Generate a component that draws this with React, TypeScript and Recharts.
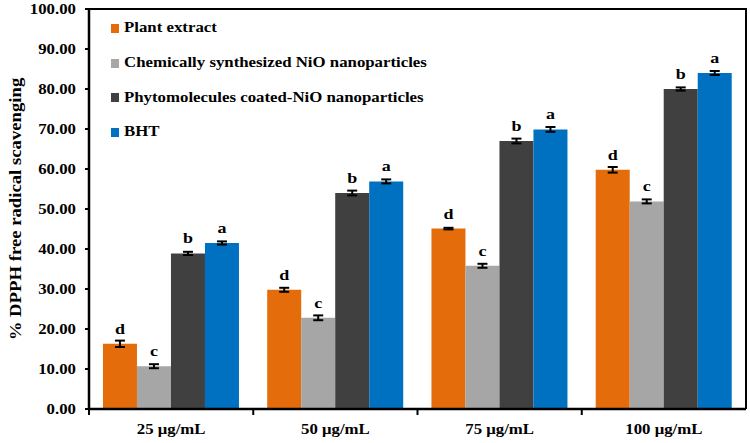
import { Bar, BarChart, ErrorBar, LabelList, Legend, XAxis, YAxis } from "recharts"

const categories = ["25 μg/mL", "50 μg/mL", "75 μg/mL", "100 μg/mL"]

const seriesNames = [
  "Plant extract",
  "Chemically synthesized NiO nanoparticles",
  "Phytomolecules coated-NiO nanoparticles",
  "BHT",
]
const seriesKeys = ["plant", "chem", "phyto", "bht"]
const seriesColors = ["#E46C0A", "#A6A6A6", "#404040", "#0070C0"]
const seriesLetters = ["d", "c", "b", "a"]

const plantExtract = [16.3, 29.8, 45.1, 59.8]
const plantExtractErr = [0.8, 0.5, 0.2, 0.7]
const chemNiO = [10.7, 22.8, 35.8, 51.9]
const chemNiOErr = [0.5, 0.6, 0.5, 0.5]
const phytoNiO = [38.9, 54.0, 67.0, 80.0]
const phytoNiOErr = [0.4, 0.6, 0.6, 0.4]
const bht = [41.5, 56.9, 69.9, 84.0]
const bhtErr = [0.4, 0.5, 0.6, 0.5]

const yTicks = [0, 10, 20, 30, 40, 50, 60, 70, 80, 90, 100]

const values = [plantExtract, chemNiO, phytoNiO, bht]
const errors = [plantExtractErr, chemNiOErr, phytoNiOErr, bhtErr]

const data = categories.map((category, i) => {
  const row: Record<string, string | number> = { category }
  seriesKeys.forEach((key, s) => {
    row[key] = values[s][i]
    row[key + "Err"] = errors[s][i]
  })
  return row
})

// layout
const W = 750
const H = 443
const MARGIN = { top: 9, right: 4, left: 0, bottom: 6 }
const X_AXIS_H = 28
const Y_AXIS_W = 89
const PLOT_W = W - MARGIN.left - MARGIN.right - Y_AXIS_W
const PLOT_H = H - MARGIN.top - MARGIN.bottom - X_AXIS_H
const BAND = PLOT_W / categories.length
const Y_TICK_SIZE = 4
const Y_TICK_MARGIN = 9

const FONT = "'Liberation Serif', 'Times New Roman', serif"
const STRETCH = 1.2

function YTick(props: any) {
  const { x, y, payload } = props
  return (
    <text
      transform={`translate(${x},${y}) scale(${STRETCH},1)`}
      textAnchor="end"
      dy="0.35em"
      fontFamily={FONT}
      fontWeight="bold"
      fontSize={14}
      fill="#000"
    >
      {Number(payload.value).toFixed(2)}
    </text>
  )
}

function XTick(props: any) {
  const { x, y, payload } = props
  return (
    <g>
      <line x1={x - BAND / 2} x2={x - BAND / 2} y1={y} y2={y + 6} stroke="#000" strokeWidth={2} />
      <text
        transform={`translate(${x},${y + 25}) scale(${STRETCH},1)`}
        textAnchor="middle"
        fontFamily={FONT}
        fontWeight="bold"
        fontSize={14}
        fill="#000"
      >
        {payload.value}
      </text>
    </g>
  )
}

function renderLetter(p: any, letter: string) {
  const x = Number(p.x) + Number(p.width) / 2
  const y = Number(p.y) - 10
  return (
    <text
      transform={`translate(${x},${y}) scale(${STRETCH},1)`}
      textAnchor="middle"
      fontFamily={FONT}
      fontWeight="bold"
      fontSize={15}
      fill="#000"
    >
      {letter}
    </text>
  )
}

function renderYLabel(p: any) {
  const vb = p.viewBox || {}
  const cy = (vb.y ?? MARGIN.top) + (vb.height ?? PLOT_H) / 2
  return (
    <text
      transform={`translate(15,${cy}) rotate(-90) scale(1.17,1)`}
      textAnchor="middle"
      dominantBaseline="central"
      fontFamily={FONT}
      fontWeight="bold"
      fontSize={16}
      fill="#000"
    >
      % DPPH free radical scavenging
    </text>
  )
}

function LegendBox() {
  return (
    <div style={{ fontFamily: FONT, fontWeight: "bold", fontSize: 14, color: "#000" }}>
      {seriesNames.map((name, i) => (
        <div key={name} style={{ display: "flex", alignItems: "center", height: 34.7 }}>
          <span
            style={{
              display: "inline-block",
              width: 8,
              height: 9,
              background: seriesColors[i],
              marginRight: 5,
            }}
          />
          <span
            style={{
              display: "inline-block",
              whiteSpace: "nowrap",
              transform: `scaleX(${STRETCH})`,
              transformOrigin: "left center",
            }}
          >
            {name}
          </span>
        </div>
      ))}
    </div>
  )
}

export default function App() {
  return (
    <div style={{ position: "absolute", left: 0, top: 0, width: W, height: H, background: "#fff" }}>
      <BarChart
        width={W}
        height={H}
        data={data}
        margin={MARGIN}
        barCategoryGap="8.5%"
        barGap={0}
      >
        <XAxis
          dataKey="category"
          height={X_AXIS_H}
          axisLine={{ stroke: "#000", strokeWidth: 2.5 }}
          tickLine={false}
          tickSize={0}
          tickMargin={0}
          interval={0}
          tick={<XTick />}
        />
        <YAxis
          width={Y_AXIS_W}
          domain={[0, 100]}
          ticks={yTicks}
          interval={0}
          axisLine={{ stroke: "#000", strokeWidth: 2.5 }}
          tickLine={{ stroke: "#000", strokeWidth: 2 }}
          tickSize={Y_TICK_SIZE}
          tickMargin={Y_TICK_MARGIN}
          tick={<YTick />}
          label={{ content: renderYLabel }}
        />
        <Legend
          layout="vertical"
          align="center"
          verticalAlign="middle"
          wrapperStyle={{ top: 11, left: 111, width: "auto" }}
          content={() => <LegendBox />}
        />
        {seriesKeys.map((key, s) => (
          <Bar
            key={key}
            dataKey={key}
            name={seriesNames[s]}
            fill={seriesColors[s]}
            isAnimationActive={false}
          >
            <ErrorBar dataKey={key + "Err"} width={5} stroke="#000" strokeWidth={2} direction="y" />
            <LabelList dataKey={key} content={(p: any) => renderLetter(p, seriesLetters[s])} />
          </Bar>
        ))}
      </BarChart>
      {/* top and right edges of the plot frame */}
      <div
        style={{
          position: "absolute",
          left: MARGIN.left + Y_AXIS_W,
          top: MARGIN.top - 1,
          width: PLOT_W + 1,
          height: PLOT_H + 1,
          borderTop: "2.5px solid #000",
          borderRight: "2.5px solid #000",
          boxSizing: "border-box",
          pointerEvents: "none",
          zIndex: 5,
        }}
      />
    </div>
  )
}
